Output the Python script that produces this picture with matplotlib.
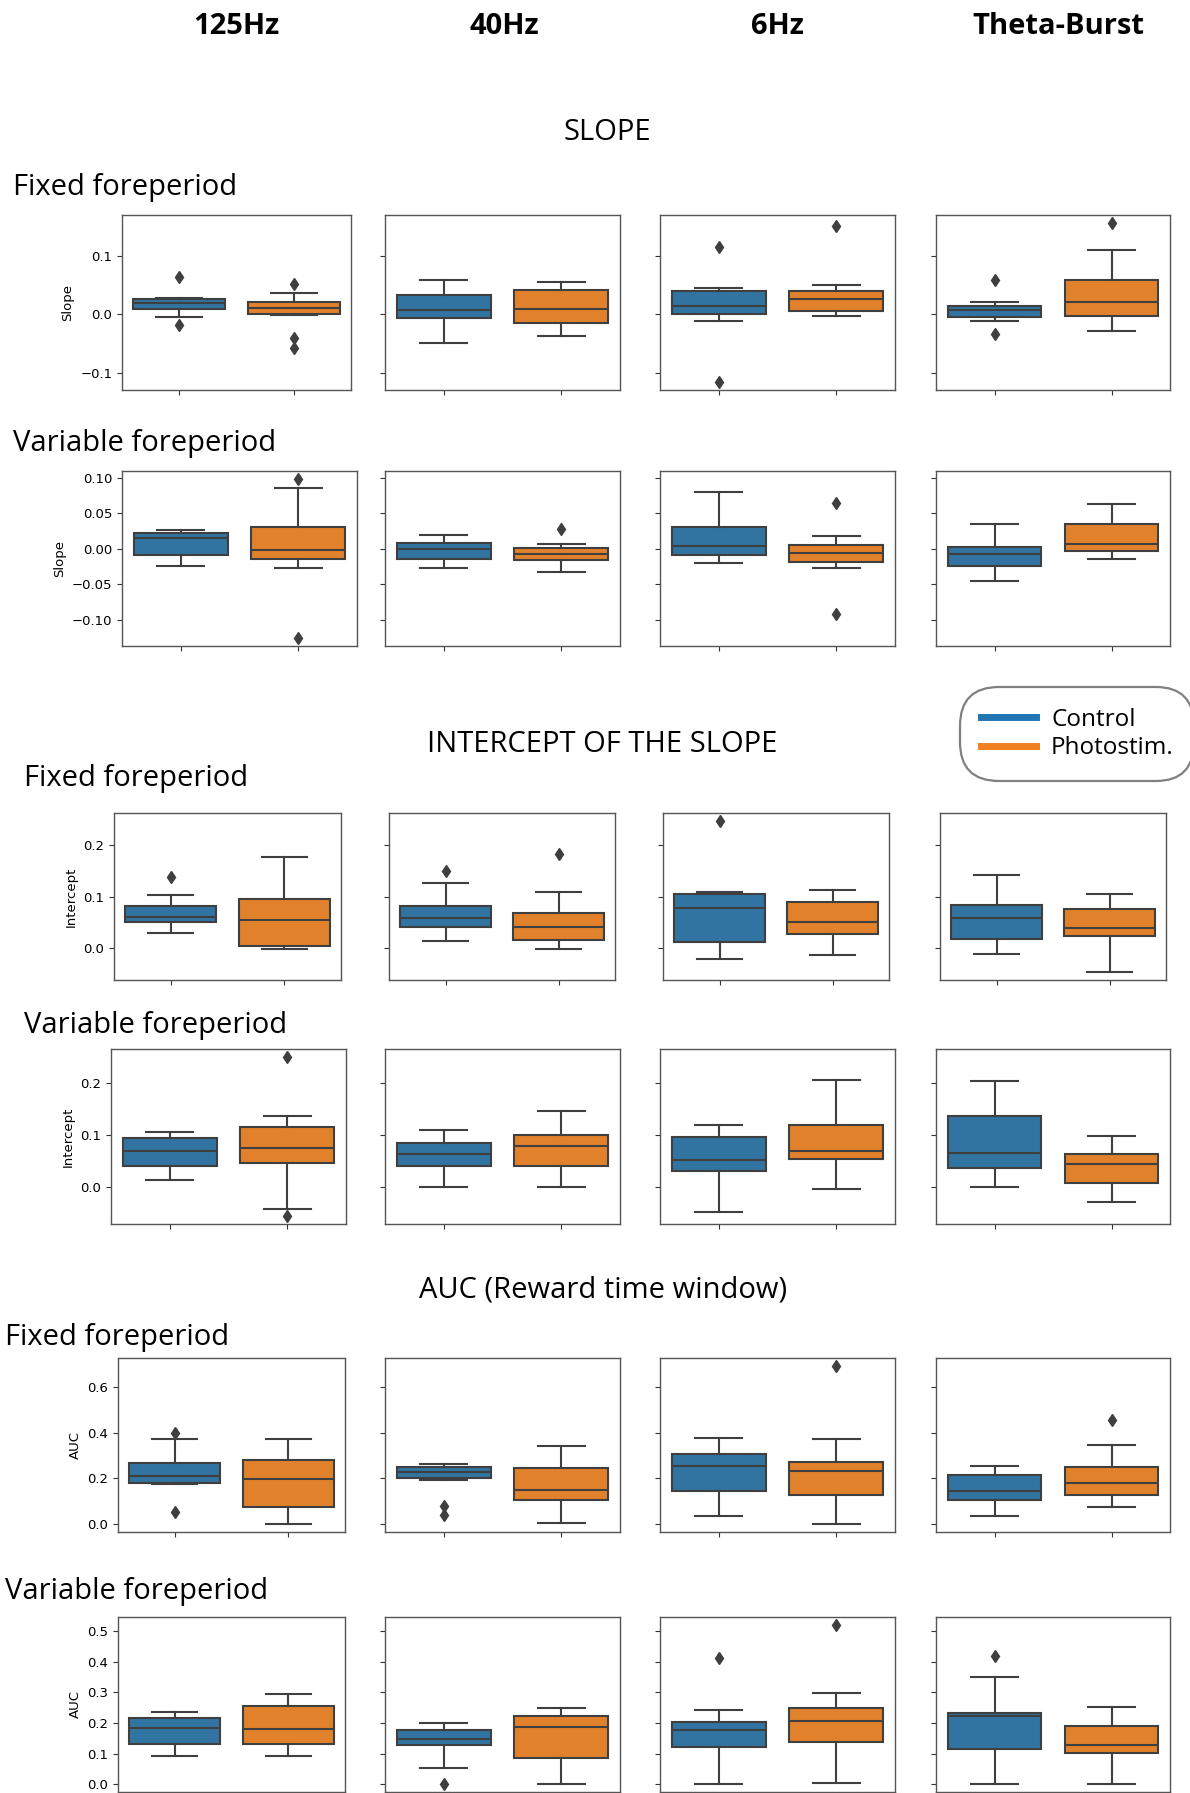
import matplotlib
matplotlib.use("Agg")
import matplotlib.pyplot as plt
from matplotlib.lines import Line2D
from matplotlib.ticker import MultipleLocator

# ---------------- data (whislo, q1, median, q3, whishi, fliers) ----------------
frequencies = ['125Hz', '40Hz', '6Hz', 'Theta-Burst']
groups = ['Control', 'Photostim.']

# order: 125 C, 125 P, 40 C, 40 P, 6 C, 6 P, TB C, TB P
slope_fixed = [
    (-0.004, 0.010, 0.019, 0.027, 0.029, [0.065, -0.018]),
    (-0.001, 0.000, 0.011, 0.021, 0.036, [0.053, -0.041, -0.057]),
    (-0.049, -0.006, 0.007, 0.034, 0.059, []),
    (-0.037, -0.014, 0.010, 0.042, 0.056, []),
    (-0.011, 0.000, 0.014, 0.040, 0.045, [0.115, -0.116]),
    (-0.002, 0.006, 0.027, 0.040, 0.050, [0.152]),
    (-0.012, -0.005, 0.008, 0.014, 0.021, [0.059, -0.033]),
    (-0.029, -0.002, 0.021, 0.059, 0.110, [0.157]),
]
slope_variable = [
    (-0.024, -0.009, 0.015, 0.022, 0.026, []),
    (-0.028, -0.0145, -0.0015, 0.031, 0.085, [0.098, -0.126]),
    (-0.027, -0.0145, 0.000, 0.008, 0.019, []),
    (-0.033, -0.0155, -0.008, 0.001, 0.006, [0.028]),
    (-0.021, -0.009, 0.004, 0.031, 0.080, []),
    (-0.028, -0.019, -0.0065, 0.0055, 0.0175, [0.064, -0.092]),
    (-0.046, -0.025, -0.007, 0.002, 0.034, []),
    (-0.0145, -0.003, 0.0065, 0.034, 0.063, []),
]
intercept_fixed = [
    (0.030, 0.050, 0.061, 0.081, 0.104, [0.138]),
    (-0.0005, 0.005, 0.054, 0.096, 0.176, []),
    (0.015, 0.0415, 0.059, 0.081, 0.126, [0.150]),
    (-0.001, 0.017, 0.0415, 0.069, 0.109, [0.182]),
    (-0.021, 0.013, 0.078, 0.105, 0.109, [0.247]),
    (-0.013, 0.0275, 0.0505, 0.089, 0.113, []),
    (-0.011, 0.0185, 0.059, 0.084, 0.1425, []),
    (-0.0465, 0.023, 0.040, 0.076, 0.105, []),
]
intercept_variable = [
    (0.014, 0.041, 0.069, 0.0955, 0.107, []),
    (-0.042, 0.047, 0.075, 0.115, 0.137, [0.251, -0.056]),
    (0.000, 0.041, 0.063, 0.0845, 0.110, []),
    (0.000, 0.040, 0.080, 0.0995, 0.146, []),
    (-0.049, 0.0315, 0.0515, 0.097, 0.120, []),
    (-0.003, 0.055, 0.069, 0.120, 0.206, []),
    (0.000, 0.036, 0.066, 0.137, 0.205, []),
    (-0.028, 0.0085, 0.045, 0.0645, 0.0975, []),
]
auc_fixed = [
    (0.175, 0.180, 0.209, 0.265, 0.370, [0.400, 0.054]),
    (0.000, 0.0725, 0.1985, 0.278, 0.371, []),
    (0.191, 0.203, 0.229, 0.248, 0.262, [0.080, 0.041]),
    (0.006, 0.106, 0.148, 0.245, 0.3405, []),
    (0.035, 0.1435, 0.252, 0.306, 0.377, []),
    (0.0015, 0.1275, 0.233, 0.272, 0.372, [0.691]),
    (0.035, 0.106, 0.145, 0.213, 0.252, []),
    (0.074, 0.129, 0.178, 0.249, 0.346, [0.4535]),
]
auc_variable = [
    (0.093, 0.131, 0.183, 0.2165, 0.235, []),
    (0.092, 0.131, 0.1815, 0.254, 0.2965, []),
    (0.0535, 0.127, 0.147, 0.177, 0.201, [0.000]),
    (0.001, 0.085, 0.187, 0.223, 0.249, []),
    (0.001, 0.1215, 0.177, 0.2045, 0.244, [0.4125]),
    (0.002, 0.137, 0.208, 0.2505, 0.2975, [0.521]),
    (0.001, 0.115, 0.223, 0.233, 0.352, [0.419]),
    (0.001, 0.1005, 0.127, 0.1915, 0.2525, []),
]

row_data = [slope_fixed, slope_variable, intercept_fixed, intercept_variable, auc_fixed, auc_variable]
row_ylabels = ['Slope', 'Slope', 'Intercept', 'Intercept', 'AUC', 'AUC']
row_ytick_step = [0.1, 0.05, 0.1, 0.1, 0.2, 0.1]
row_titles = ['Fixed foreperiod', 'Variable foreperiod'] * 3
section_titles = ['SLOPE', 'INTERCEPT OF THE SLOPE', 'AUC (Reward time window)']

# ---------------- layout (pixels) ----------------
W, H = 1190, 1793
fig = plt.figure(figsize=(W / 100, H / 100), dpi=100)

def rect(l, r, t, b):
    return [l / W, 1 - b / H, (r - l) / W, (b - t) / H]

std_cols = [(385, 620), (660, 895), (936, 1170)]
row_y = [(215, 390), (471, 646), (813, 980), (1049, 1224), (1358, 1532), (1617, 1792)]
row_first = [(122, 351), (122, 357), (114, 341), (111, 346), (118, 345), (118, 345)]
row3_cols = [(389, 615), (663, 889), (940, 1166)]
row_title_pos = [(13, 188), (13, 444), (24, 779), (24, 1026), (5, 1338), (5, 1592)]
section_pos = [(607, 132), (602, 744), (603, 1290)]
col_title_x = [236, 504, 777, 1058]

COLORS = ['#3274a1', '#e1812c']
GRAY = '#3f3f3f'
HEAD = ['Open Sans', 'DejaVu Sans']

for c, name in enumerate(frequencies):
    fig.text(col_title_x[c] / W, 1 - 27 / H, name, ha='center', va='center',
             fontsize=21, fontweight='bold', family=HEAD)
for s, name in enumerate(section_titles):
    x, y = section_pos[s]
    fig.text(x / W, 1 - y / H, name, ha='center', va='center', fontsize=21, family=HEAD)

for r, data in enumerate(row_data):
    t, b = row_y[r]
    cols = [row_first[r]] + (row3_cols if r == 2 else std_cols)
    lo = min([d[0] for d in data] + [f for d in data for f in d[5]])
    hi = max([d[4] for d in data] + [f for d in data for f in d[5]])
    pad = 0.05 * (hi - lo)
    first = None
    for c in range(4):
        l, rr = cols[c]
        ax = fig.add_axes(rect(l, rr, t, b), sharey=first)
        if first is None:
            first = ax
        stats = []
        for g in range(2):
            wl, q1, med, q3, wh, fl = data[2 * c + g]
            stats.append(dict(whislo=wl, q1=q1, med=med, q3=q3, whishi=wh, fliers=fl))
        res = ax.bxp(stats, positions=[0, 1], widths=0.8, capwidths=0.4, patch_artist=True,
                     showfliers=True, manage_ticks=False,
                     boxprops=dict(edgecolor=GRAY, linewidth=1.5),
                     medianprops=dict(color=GRAY, linewidth=1.5),
                     whiskerprops=dict(color=GRAY, linewidth=1.5),
                     capprops=dict(color=GRAY, linewidth=1.5),
                     flierprops=dict(marker='d', markerfacecolor=GRAY, markeredgecolor=GRAY,
                                     markersize=6, linestyle='none'))
        for patch, col in zip(res['boxes'], COLORS):
            patch.set_facecolor(col)
        ax.set_xlim(-0.5, 1.5)
        ax.set_ylim(lo - pad, hi + pad)
        ax.yaxis.set_major_locator(MultipleLocator(row_ytick_step[r]))
        ax.set_xticks([0, 1])
        ax.set_xticklabels(['', ''])
        for sp in ax.spines.values():
            sp.set_color('#555555')
            sp.set_linewidth(1.0)
        ax.tick_params(colors='#333333', labelcolor='black', labelsize=9.5)
        if c == 0:
            ax.set_ylabel(row_ylabels[r], fontsize=9.5)
        else:
            ax.tick_params(labelleft=False)
    x, y = row_title_pos[r]
    fig.text(x / W, 1 - y / H, row_titles[r], ha='left', va='center', fontsize=21, family=HEAD)

handles = [Line2D([], [], color='#1f77b4', lw=5), Line2D([], [], color='#f08020', lw=5)]
leg = fig.legend(handles, groups, loc='center left', bbox_to_anchor=(955 / W, 1 - 734 / H),
                 frameon=True, prop=dict(family=HEAD, size=17.5), handlelength=2.3,
                 handletextpad=0.6, labelspacing=0.2, borderpad=0.55)
fr = leg.get_frame()
fr.set_boxstyle('round,pad=0.3,rounding_size=1.6')
fr.set_edgecolor('#808080')
fr.set_linewidth(1.6)
fr.set_alpha(1)

fig.savefig('out.png', dpi=100)
